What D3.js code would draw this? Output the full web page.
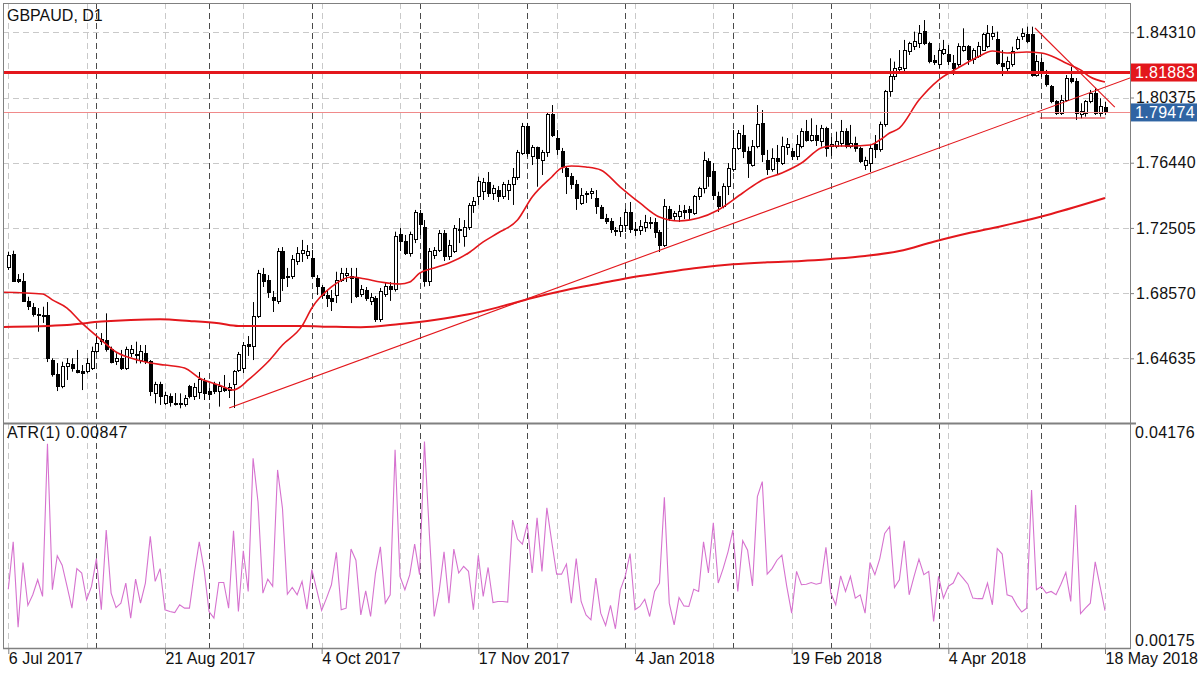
<!DOCTYPE html>
<html><head><meta charset="utf-8">
<script src="https://cdn.jsdelivr.net/npm/d3@7"></script>
<style>
body{margin:0;background:#fff}
svg{display:block}
text{font-family:"Liberation Sans",Arial,Helvetica,sans-serif;fill:#111}
</style></head>
<body><svg id="chart" width="1200" height="675"></svg>
<script>
// ---------- DATA ----------
const chartTitle = "GBPAUD, D1";
const atrTitle = "ATR(1) 0.00847";
const dateLabels = [[0,"6 Jul 2017"],[32,"21 Aug 2017"],[64,"4 Oct 2017"],[96,"17 Nov 2017"],[128,"4 Jan 2018"],[160,"19 Feb 2018"],[192,"4 Apr 2018"],[224,"18 May 2018"]];
const gridBars = [0,16,32,48,64,80,96,112,128,144,160,176,192,208,224];
const monthStartBars = [18,41,62,84,106,126,148,168,190,211];
const priceTicks = [1.64635,1.68570,1.72505,1.76440,1.80375,1.84310];
const atrTicks = [0.04176,0.00175];
const resistanceLevel = 1.81883;
const lastPrice = 1.79474;

const opens = [1.7009,1.7093,1.6942,1.6926,1.6805,1.6769,1.6719,1.6719,1.6719,1.6453,
1.6363,1.6292,1.6413,1.6429,1.6389,1.6383,1.6383,1.6403,1.6504,1.6564,
1.6574,1.6514,1.6443,1.6464,1.6403,1.6490,1.6484,1.6453,1.6494,1.6443,
1.6252,1.6303,1.6188,1.6236,1.6192,1.6188,1.6182,1.6292,1.6232,1.6260,
1.6322,1.6262,1.6303,1.6262,1.6283,1.6272,1.6303,1.6393,1.6405,1.6544,
1.6534,1.6715,1.6972,1.6936,1.6828,1.6805,1.7107,1.6960,1.6956,1.7047,
1.7099,1.7087,1.7063,1.6948,1.6888,1.6840,1.6822,1.6840,1.6936,1.6966,
1.6960,1.6948,1.6846,1.6872,1.6805,1.6826,1.6695,1.6846,1.6896,1.6876,
1.7208,1.7167,1.7097,1.7178,1.7335,1.7250,1.6926,1.7087,1.7117,1.7218,
1.7077,1.7107,1.7238,1.7196,1.7250,1.7383,1.7439,1.7473,1.7522,1.7461,
1.7479,1.7439,1.7479,1.7510,1.7552,1.7701,1.7861,1.7680,1.7733,1.7660,
1.7703,1.7932,1.7793,1.7710,1.7612,1.7560,1.7510,1.7399,1.7459,1.7459,
1.7431,1.7371,1.7310,1.7292,1.7232,1.7226,1.7268,1.7341,1.7238,1.7232,
1.7250,1.7286,1.7286,1.7220,1.7147,1.7359,1.7322,1.7318,1.7353,1.7359,
1.7339,1.7439,1.7490,1.7650,1.7590,1.7439,1.7379,1.7499,1.7600,1.7731,
1.7811,1.7710,1.7630,1.7741,1.7878,1.7660,1.7600,1.7671,1.7641,1.7733,
1.7710,1.7680,1.7741,1.7831,1.7781,1.7811,1.7771,1.7852,1.7741,1.7741,
1.7761,1.7831,1.7741,1.7761,1.7731,1.7630,1.7641,1.7751,1.7721,1.7872,
1.8073,1.8163,1.8204,1.8214,1.8314,1.8344,1.8365,1.8435,1.8365,1.8258,
1.8234,1.8304,1.8294,1.8244,1.8234,1.8324,1.8344,1.8264,1.8284,1.8324,
1.8344,1.8405,1.8385,1.8244,1.8214,1.8234,1.8335,1.8405,1.8415,1.8415,
1.8173,1.8246,1.8173,1.8103,1.8012,1.7942,1.8022,1.8153,1.8133,1.7932,
1.7942,1.8012,1.8063,1.7942,1.7978];
const highs = [1.7107,1.7113,1.6972,1.6978,1.6835,1.6797,1.6767,1.6775,1.6803,1.6464,
1.6435,1.6443,1.6464,1.6464,1.6514,1.6423,1.6464,1.6534,1.6594,1.6616,
1.6735,1.6534,1.6494,1.6514,1.6534,1.6544,1.6564,1.6544,1.6544,1.6453,
1.6322,1.6322,1.6262,1.6252,1.6254,1.6252,1.6242,1.6303,1.6315,1.6381,
1.6345,1.6284,1.6322,1.6322,1.6363,1.6315,1.6393,1.6502,1.6562,1.6598,
1.6803,1.6997,1.7009,1.6966,1.6870,1.7129,1.7135,1.7009,1.7087,1.7135,
1.7178,1.7147,1.7117,1.6966,1.6906,1.6876,1.6876,1.6986,1.7009,1.7009,
1.7009,1.7009,1.6906,1.6894,1.6858,1.6840,1.6888,1.6918,1.6924,1.7228,
1.7250,1.7208,1.7228,1.7359,1.7359,1.7298,1.7129,1.7135,1.7238,1.7238,
1.7178,1.7268,1.7310,1.7298,1.7401,1.7437,1.7560,1.7552,1.7588,1.7510,
1.7503,1.7528,1.7540,1.7612,1.7721,1.7884,1.7884,1.7751,1.7741,1.7721,
1.7944,1.7992,1.7841,1.7733,1.7624,1.7582,1.7540,1.7491,1.7473,1.7491,
1.7479,1.7389,1.7335,1.7310,1.7256,1.7316,1.7365,1.7407,1.7286,1.7298,
1.7329,1.7316,1.7310,1.7238,1.7425,1.7383,1.7353,1.7389,1.7389,1.7383,
1.7449,1.7499,1.7710,1.7671,1.7642,1.7469,1.7520,1.7642,1.7841,1.7841,
1.7872,1.7741,1.7781,1.7992,1.7962,1.7721,1.7731,1.7751,1.7801,1.7793,
1.7733,1.7811,1.7852,1.7902,1.7912,1.7872,1.7872,1.7861,1.7799,1.7831,
1.7902,1.7852,1.7872,1.7801,1.7741,1.7680,1.7751,1.7811,1.7892,1.8083,
1.8274,1.8254,1.8324,1.8385,1.8374,1.8435,1.8475,1.8505,1.8374,1.8294,
1.8335,1.8385,1.8354,1.8294,1.8365,1.8455,1.8354,1.8335,1.8373,1.8427,
1.8475,1.8469,1.8435,1.8324,1.8284,1.8344,1.8405,1.8455,1.8465,1.8465,
1.8294,1.8276,1.8204,1.8113,1.8022,1.8053,1.8173,1.8223,1.8155,1.8003,
1.8022,1.8083,1.8093,1.8033,1.8012];
const lows = [1.6997,1.6926,1.6918,1.6805,1.6755,1.6715,1.6624,1.6677,1.6441,1.6353,
1.6266,1.6283,1.6333,1.6383,1.6373,1.6272,1.6373,1.6393,1.6494,1.6544,
1.6504,1.6433,1.6423,1.6393,1.6393,1.6471,1.6433,1.6433,1.6429,1.6236,
1.6192,1.6182,1.6182,1.6172,1.6179,1.6162,1.6172,1.6222,1.6212,1.6218,
1.6212,1.6212,1.6248,1.6172,1.6260,1.6224,1.6164,1.6381,1.6375,1.6478,
1.6453,1.6707,1.6894,1.6828,1.6743,1.6791,1.6870,1.6894,1.6942,1.7027,
1.7045,1.7063,1.6954,1.6846,1.6822,1.6773,1.6749,1.6797,1.6924,1.6924,
1.6797,1.6828,1.6834,1.6810,1.6785,1.6683,1.6683,1.6834,1.6810,1.6866,
1.7111,1.7087,1.7077,1.7159,1.7208,1.6896,1.6900,1.7063,1.7105,1.7051,
1.7057,1.7099,1.7159,1.7137,1.7238,1.7341,1.7389,1.7419,1.7437,1.7419,
1.7407,1.7425,1.7419,1.7389,1.7540,1.7691,1.7680,1.7630,1.7499,1.7570,
1.7679,1.7799,1.7691,1.7582,1.7455,1.7485,1.7359,1.7389,1.7401,1.7425,
1.7335,1.7304,1.7274,1.7220,1.7202,1.7196,1.7226,1.7220,1.7202,1.7208,
1.7226,1.7244,1.7190,1.7105,1.7135,1.7292,1.7298,1.7286,1.7304,1.7298,
1.7329,1.7419,1.7459,1.7499,1.7419,1.7347,1.7369,1.7449,1.7590,1.7721,
1.7672,1.7552,1.7620,1.7731,1.7648,1.7570,1.7590,1.7576,1.7630,1.7691,
1.7660,1.7660,1.7731,1.7771,1.7771,1.7745,1.7741,1.7680,1.7685,1.7731,
1.7741,1.7731,1.7731,1.7710,1.7641,1.7600,1.7588,1.7672,1.7710,1.7861,
1.8042,1.8143,1.8193,1.8185,1.8294,1.8324,1.8336,1.8354,1.8244,1.8234,
1.8214,1.8294,1.8234,1.8173,1.8223,1.8314,1.8234,1.8240,1.8276,1.8318,
1.8335,1.8385,1.8234,1.8167,1.8179,1.8223,1.8324,1.8385,1.8365,1.8163,
1.8163,1.8161,1.8103,1.8003,1.7932,1.7932,1.8012,1.8123,1.7902,1.7912,
1.7922,1.8003,1.7932,1.7922,1.7932];
const closes = [1.7087,1.6930,1.6930,1.6809,1.6775,1.6725,1.6725,1.6722,1.6464,1.6363,
1.6292,1.6413,1.6433,1.6403,1.6377,1.6369,1.6433,1.6504,1.6554,1.6578,
1.6514,1.6437,1.6464,1.6403,1.6514,1.6514,1.6478,1.6504,1.6443,1.6262,
1.6303,1.6236,1.6242,1.6196,1.6182,1.6192,1.6222,1.6232,1.6290,1.6333,
1.6252,1.6248,1.6262,1.6292,1.6272,1.6290,1.6381,1.6484,1.6538,1.6532,
1.6715,1.6978,1.6930,1.6858,1.6810,1.7107,1.6948,1.6954,1.7057,1.7099,
1.7117,1.7111,1.6956,1.6896,1.6840,1.6822,1.6805,1.6936,1.6978,1.6978,
1.6948,1.6835,1.6876,1.6826,1.6828,1.6695,1.6866,1.6896,1.6876,1.7198,
1.7167,1.7097,1.7208,1.7341,1.7274,1.6926,1.7107,1.7117,1.7218,1.7077,
1.7147,1.7248,1.7232,1.7250,1.7383,1.7409,1.7529,1.7522,1.7461,1.7491,
1.7439,1.7510,1.7510,1.7552,1.7703,1.7861,1.7701,1.7733,1.7671,1.7703,
1.7932,1.7811,1.7721,1.7620,1.7560,1.7510,1.7429,1.7449,1.7461,1.7469,
1.7379,1.7310,1.7292,1.7238,1.7226,1.7268,1.7341,1.7238,1.7232,1.7262,
1.7286,1.7280,1.7220,1.7147,1.7377,1.7310,1.7335,1.7348,1.7341,1.7341,
1.7439,1.7491,1.7660,1.7560,1.7449,1.7379,1.7499,1.7610,1.7731,1.7822,
1.7710,1.7641,1.7741,1.7872,1.7691,1.7600,1.7671,1.7654,1.7741,1.7751,
1.7680,1.7751,1.7831,1.7781,1.7811,1.7781,1.7852,1.7731,1.7751,1.7771,
1.7831,1.7741,1.7761,1.7731,1.7650,1.7660,1.7731,1.7721,1.7872,1.8073,
1.8163,1.8214,1.8216,1.8324,1.8365,1.8374,1.8425,1.8365,1.8254,1.8248,
1.8324,1.8329,1.8254,1.8214,1.8344,1.8344,1.8264,1.8324,1.8344,1.8415,
1.8425,1.8425,1.8244,1.8223,1.8254,1.8314,1.8385,1.8425,1.8374,1.8173,
1.8254,1.8191,1.8113,1.8012,1.7942,1.8022,1.8153,1.8133,1.7942,1.7952,
1.8012,1.8063,1.7942,1.7982,1.79474];
const atrValues = [0.0123,0.0208,0.0055,0.0171,0.0094,0.0113,0.0140,0.0110,0.0384,0.0122,
0.0183,0.0166,0.0128,0.0089,0.0160,0.0152,0.0104,0.0128,0.0178,0.0086,
0.0229,0.0116,0.0090,0.0098,0.0134,0.0071,0.0141,0.0098,0.0134,0.0218,
0.0137,0.0160,0.0086,0.0083,0.0081,0.0095,0.0089,0.0089,0.0152,0.0208,
0.0158,0.0083,0.0071,0.0135,0.0135,0.0089,0.0228,0.0083,0.0192,0.0119,
0.0358,0.0280,0.0116,0.0141,0.0128,0.0337,0.0268,0.0114,0.0126,0.0113,
0.0137,0.0087,0.0158,0.0122,0.0085,0.0107,0.0131,0.0189,0.0086,0.0089,
0.0195,0.0175,0.0077,0.0120,0.0074,0.0152,0.0199,0.0098,0.0113,0.0373,
0.0146,0.0122,0.0149,0.0204,0.0149,0.0388,0.0223,0.0074,0.0119,0.0190,
0.0098,0.0195,0.0152,0.0164,0.0155,0.0086,0.0184,0.0110,0.0162,0.0099,
0.0101,0.0101,0.0100,0.0247,0.0213,0.0204,0.0240,0.0152,0.0251,0.0155,
0.0269,0.0208,0.0150,0.0150,0.0168,0.0098,0.0178,0.0101,0.0077,0.0068,
0.0143,0.0080,0.0058,0.0094,0.0052,0.0122,0.0146,0.0187,0.0086,0.0092,
0.0105,0.0074,0.0119,0.0134,0.0288,0.0098,0.0059,0.0108,0.0093,0.0092,
0.0123,0.0119,0.0208,0.0152,0.0242,0.0134,0.0160,0.0190,0.0229,0.0119,
0.0210,0.0193,0.0129,0.0289,0.0316,0.0150,0.0160,0.0175,0.0184,0.0128,
0.0080,0.0155,0.0131,0.0132,0.0135,0.0132,0.0134,0.0198,0.0116,0.0095,
0.0147,0.0119,0.0146,0.0107,0.0113,0.0080,0.0171,0.0149,0.0178,0.0223,
0.0235,0.0126,0.0140,0.0210,0.0113,0.0146,0.0177,0.0149,0.0155,0.0065,
0.0146,0.0107,0.0128,0.0134,0.0153,0.0143,0.0132,0.0107,0.0106,0.0106,
0.0134,0.0095,0.0196,0.0186,0.0113,0.0110,0.0094,0.0082,0.0089,0.0301,
0.0122,0.0128,0.0116,0.0119,0.0113,0.0132,0.0153,0.0101,0.0274,0.0079,
0.0089,0.0098,0.0172,0.0128,0.00847];
// moving averages read at sampled bars: [barIndex, price]
const ma20Points = [[-1,1.6862],[7,1.6852],[9,1.6816],[12,1.6767],[15,1.6677],[19,1.6574],[22,1.6502],[25,1.6465],[29,1.6435],[32,1.6423],[36,1.6405],[39,1.6345],[43,1.6303],[46,1.6272],[47,1.6284],[49,1.6333],[53,1.6441],[56,1.6544],[60,1.6659],[62,1.6767],[66,1.6894],[70,1.6954],[73,1.6942],[76,1.6924],[80,1.6912],[82,1.6924],[84,1.6978],[87,1.7009],[90,1.7039],[94,1.7099],[97,1.7166],[100,1.7220],[104,1.7298],[107,1.7437],[111,1.7558],[113,1.7612],[115,1.7624],[118,1.7618],[121,1.7600],[125,1.7497],[129,1.7401],[133,1.7316],[137,1.7292],[141,1.7310],[145,1.7359],[150,1.7461],[154,1.7540],[158,1.7582],[162,1.7642],[166,1.7733],[168,1.7745],[172,1.7745],[176,1.7751],[178,1.7781],[180,1.7823],[182,1.7853],[186,1.8022],[190,1.8143],[194,1.8216],[198,1.8282],[201,1.8318],[204,1.8306],[208,1.8312],[211,1.8306],[214,1.8276],[216,1.8246],[219,1.8204],[221,1.8161],[224,1.8131]];
const ma200Points = [[-1,1.6653],[12,1.6665],[19,1.6685],[25,1.6695],[31,1.6699],[37,1.6689],[43,1.6675],[47,1.6659],[60,1.6659],[66,1.6654],[72,1.6651],[80,1.6671],[87,1.6695],[94,1.6729],[100,1.6771],[107,1.6828],[114,1.6876],[121,1.6916],[128,1.6956],[135,1.6986],[141,1.7010],[148,1.7031],[155,1.7043],[162,1.7051],[168,1.7063],[175,1.7081],[182,1.7111],[189,1.7167],[196,1.7218],[203,1.7262],[213,1.7335],[224,1.7431]];
// drawn trend objects: [[bar, price],[bar, price]]
const uptrendLine = [[45.1,1.6164],[229.1,1.8155]];
const downtrendLine = [[209.7,1.8457],[226.0,1.7980]];
const supportLine = [[210.7,1.7914],[224,1.7914]];

// ---------- LAYOUT ----------
const L=3, R=1130, T=3, MB=423, AT=424, AB=648;
const svg = d3.select("#chart");
const x = d3.scaleLinear().domain([0,224]).range([8.3,1105]);
const y = d3.scaleLinear().domain([1.60732,1.86078]).range([423,3]);
const ya = d3.scaleLinear().domain([0.00175,0.04176]).range([648,425]);
const RED = "#e3171c";

svg.append("rect").attr("width",1200).attr("height",675).attr("fill","#fff");
const defs = svg.append("defs");
defs.append("clipPath").attr("id","cm").append("rect").attr("x",L).attr("y",T).attr("width",R-L).attr("height",MB-T);
defs.append("clipPath").attr("id","ca").append("rect").attr("x",L).attr("y",AT).attr("width",R-L).attr("height",AB-AT);

// grid
const grid = svg.append("g");
grid.selectAll("line.h").data(priceTicks).join("line")
  .attr("x1",L).attr("x2",R).attr("y1",d=>Math.round(y(d))+0.5).attr("y2",d=>Math.round(y(d))+0.5)
  .attr("stroke","#c9c9c9").attr("stroke-dasharray","6,4");
grid.selectAll("line.v").data(gridBars).join("line")
  .attr("x1",d=>Math.round(x(d))+0.5).attr("x2",d=>Math.round(x(d))+0.5).attr("y1",T).attr("y2",AB)
  .attr("stroke","#c9c9c9").attr("stroke-dasharray","6,4");
grid.selectAll("line.m").data(monthStartBars).join("line")
  .attr("x1",d=>Math.round(x(d))+0.5).attr("x2",d=>Math.round(x(d))+0.5).attr("y1",T).attr("y2",AB)
  .attr("stroke","#4a4a4a").attr("stroke-dasharray","6,4");

// main panel
const main = svg.append("g").attr("clip-path","url(#cm)");
const idx = d3.range(closes.length);
const candles = main.append("g");
candles.selectAll("line").data(idx).join("line")
  .attr("x1",i=>Math.round(x(i))+0.5).attr("x2",i=>Math.round(x(i))+0.5)
  .attr("y1",i=>y(highs[i])).attr("y2",i=>y(lows[i]))
  .attr("stroke","#000").attr("stroke-width",1);
candles.selectAll("rect").data(idx).join("rect")
  .attr("x",i=>Math.round(x(i))-1)
  .attr("y",i=>y(Math.max(opens[i],closes[i])))
  .attr("width",3)
  .attr("height",i=>Math.max(1,Math.abs(y(opens[i])-y(closes[i]))))
  .attr("fill",i=>closes[i]>=opens[i]?"#fff":"#000")
  .attr("stroke","#000").attr("stroke-width",1).attr("shape-rendering","crispEdges");

const lineGen = d3.line().x(d=>x(d[0])).y(d=>y(d[1])).curve(d3.curveMonotoneX);
main.append("path").attr("d",lineGen(ma200Points)).attr("fill","none").attr("stroke",RED).attr("stroke-width",2);
main.append("path").attr("d",lineGen(ma20Points)).attr("fill","none").attr("stroke",RED).attr("stroke-width",1.6);
const segGen = d3.line().x(d=>x(d[0])).y(d=>y(d[1]));
[uptrendLine,downtrendLine,supportLine].forEach(s=>{
  main.append("path").attr("d",segGen(s)).attr("fill","none").attr("stroke",RED).attr("stroke-width",1.1);
});
main.append("line").attr("x1",L).attr("x2",R).attr("y1",y(resistanceLevel)).attr("y2",y(resistanceLevel))
  .attr("stroke",RED).attr("stroke-width",3);
main.append("line").attr("x1",L).attr("x2",R).attr("y1",Math.round(y(lastPrice))+0.5).attr("y2",Math.round(y(lastPrice))+0.5)
  .attr("stroke","#f08a8a").attr("stroke-width",1);

// ATR panel
const atrG = svg.append("g").attr("clip-path","url(#ca)");
atrG.append("path").attr("d",d3.line().x((d,i)=>x(i)).y(d=>ya(d))(atrValues))
  .attr("fill","none").attr("stroke","#d672cf").attr("stroke-width",1.1);

// frame
const frame = svg.append("g").attr("stroke","#808080").attr("fill","none");
frame.append("line").attr("x1",L+0.5).attr("x2",L+0.5).attr("y1",T).attr("y2",AB);
frame.append("line").attr("x1",L).attr("x2",R).attr("y1",T+0.5).attr("y2",T+0.5);
frame.append("line").attr("x1",R+0.5).attr("x2",R+0.5).attr("y1",T).attr("y2",AB+1);
frame.append("line").attr("x1",L).attr("x2",R+6).attr("y1",MB+0.5).attr("y2",MB+0.5).attr("stroke-width",2);
frame.append("line").attr("x1",L).attr("x2",R+1).attr("y1",AB+0.5).attr("y2",AB+0.5).attr("stroke-width",1.5);

// right axis
const axisG = svg.append("g");
const yAxis = d3.axisRight(y).tickValues(priceTicks).tickFormat(d3.format(".5f")).tickSize(4).tickPadding(2);
axisG.append("g").attr("transform",`translate(${R},0)`).call(yAxis)
  .call(g=>g.select(".domain").remove())
  .call(g=>g.selectAll("line").attr("stroke","#808080"))
  .call(g=>g.selectAll("text").attr("font-size",16).attr("letter-spacing","0.3px").attr("fill","#111").attr("font-family","Liberation Sans, Arial, sans-serif"));

// level boxes
function levelBox(v,color){
  const yy=y(v);
  svg.append("rect").attr("x",R+1).attr("y",yy-9).attr("width",66).attr("height",18).attr("fill",color);
  svg.append("text").attr("x",R+5).attr("y",yy).attr("dy","0.36em").attr("font-size",16).attr("letter-spacing","0.3px")
    .style("fill","#fff").text(d3.format(".5f")(v));
}
levelBox(resistanceLevel,"#e3171c");
levelBox(lastPrice,"#2f64a3");

// ATR axis labels
svg.append("text").attr("x",R+5).attr("y",432).attr("dy","0.36em").attr("font-size",16).attr("letter-spacing","0.3px").text(d3.format(".5f")(atrTicks[0]));
svg.append("text").attr("x",R+5).attr("y",640).attr("dy","0.36em").attr("font-size",16).attr("letter-spacing","0.3px").text(d3.format(".5f")(atrTicks[1]));

// bottom date axis
const xAxis = d3.axisBottom(x).tickValues(dateLabels.map(d=>d[0])).tickSize(6).tickFormat((d,i)=>dateLabels[i][1]);
axisG.append("g").attr("transform",`translate(0,${AB})`).call(xAxis)
  .call(g=>g.select(".domain").remove())
  .call(g=>g.selectAll("line").attr("stroke","#808080"))
  .call(g=>g.selectAll("text").attr("text-anchor","start").attr("x",0).attr("y",5).attr("dy","0.71em")
     .attr("font-size",16).attr("letter-spacing","0px").attr("fill","#111").attr("font-family","Liberation Sans, Arial, sans-serif"));

// titles
svg.append("text").attr("x",7).attr("y",15).attr("dy","0.36em").attr("font-size",16).text(chartTitle);
svg.append("text").attr("x",7).attr("y",432).attr("dy","0.36em").attr("font-size",16).attr("letter-spacing","0.6px").text(atrTitle);
</script></body></html>
